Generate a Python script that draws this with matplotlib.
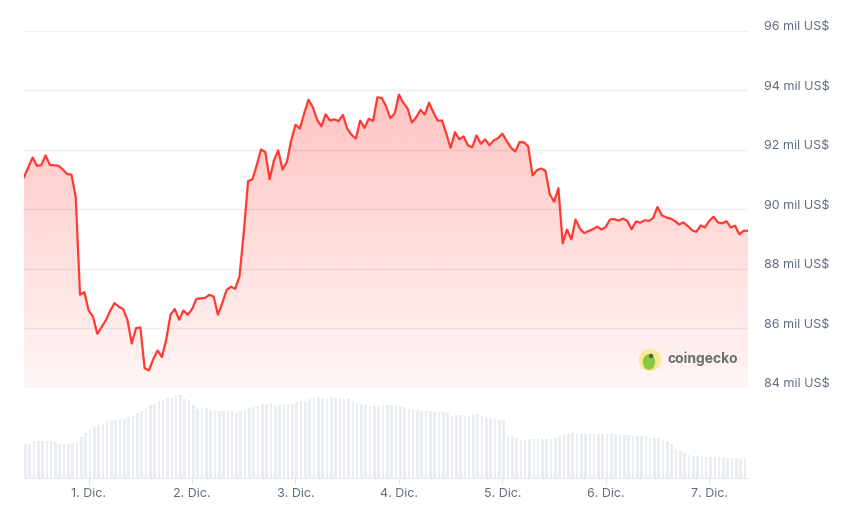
import matplotlib.pyplot as plt
import matplotlib.patches as mpatches
import matplotlib.dates as mdates
from matplotlib.transforms import IdentityTransform, ScaledTranslation
import numpy as np
import pandas as pd

# Precio BTC (mil US$), cada hora desde 30 nov 09:00
precio = [91.08, 91.41, 91.74, 91.46, 91.48, 91.81, 91.49, 91.48, 91.46, 91.34,
          91.18, 91.17, 90.42, 87.13, 87.22, 86.60, 86.40, 85.82, 86.04, 86.28,
          86.59, 86.85, 86.73, 86.65, 86.29, 85.49, 86.01, 86.03, 84.66, 84.59,
          84.97, 85.26, 85.04, 85.62, 86.46, 86.65, 86.29, 86.60, 86.46, 86.65,
          86.99, 87.01, 87.02, 87.13, 87.07, 86.46, 86.85, 87.29, 87.40, 87.33,
          87.74, 89.23, 90.95, 91.00, 91.48, 92.01, 91.92, 91.01, 91.64, 91.98,
          91.33, 91.59, 92.31, 92.84, 92.71, 93.21, 93.68, 93.43, 93.01, 92.78,
          93.19, 92.98, 93.02, 92.96, 93.17, 92.71, 92.50, 92.37, 92.98, 92.73,
          93.04, 92.97, 93.76, 93.74, 93.46, 93.06, 93.21, 93.85, 93.58, 93.39,
          92.91, 93.09, 93.34, 93.18, 93.58, 93.25, 92.98, 92.98, 92.54, 92.06,
          92.59, 92.35, 92.45, 92.15, 92.08, 92.48, 92.20, 92.35, 92.15, 92.31,
          92.39, 92.54, 92.29, 92.07, 91.94, 92.26, 92.25, 92.11, 91.14, 91.31,
          91.37, 91.29, 90.51, 90.25, 90.71, 88.86, 89.32, 88.99, 89.66, 89.35,
          89.20, 89.27, 89.33, 89.42, 89.32, 89.41, 89.66, 89.67, 89.62, 89.69,
          89.61, 89.33, 89.59, 89.55, 89.63, 89.61, 89.71, 90.08, 89.80, 89.73,
          89.69, 89.61, 89.49, 89.56, 89.44, 89.30, 89.24, 89.46, 89.39, 89.61,
          89.75, 89.56, 89.53, 89.60, 89.39, 89.45, 89.16, 89.28, 89.28]

# Volumen (mil millones US$, aprox.)
volumen = [20.6, 20.6, 22.0, 22.4, 22.0, 22.4, 22.0, 21.6, 20.6, 20.6,
           20.6, 21.0, 21.8, 24.6, 27.0, 29.0, 30.6, 32.0, 32.6, 34.0,
           35.0, 35.0, 35.6, 35.6, 36.4, 38.0, 39.0, 40.0, 42.0, 44.0,
           44.6, 46.4, 46.4, 48.0, 48.0, 50.0, 50.0, 47.4, 46.0, 44.0,
           41.6, 42.0, 42.0, 40.6, 40.4, 40.4, 40.0, 40.4, 40.4, 39.0,
           40.0, 41.0, 42.0, 42.4, 43.4, 44.6, 44.6, 45.0, 43.4, 44.0,
           44.4, 44.4, 44.4, 45.4, 46.0, 46.4, 47.4, 48.0, 48.6, 48.0,
           47.4, 48.6, 48.0, 48.0, 47.4, 48.0, 46.0, 45.0, 44.6, 44.0,
           43.4, 43.0, 43.4, 43.6, 43.6, 43.6, 43.4, 43.0, 42.4, 41.4,
           41.0, 40.6, 40.4, 40.4, 40.0, 39.6, 39.6, 39.6, 39.0, 37.4,
           38.0, 38.0, 37.4, 36.6, 38.0, 38.6, 38.0, 36.6, 36.0, 35.4,
           35.0, 34.6, 24.4, 25.0, 24.0, 23.0, 23.4, 23.4, 23.4, 24.0,
           23.4, 23.4, 23.4, 24.0, 25.0, 26.6, 26.6, 27.0, 26.6, 26.6,
           26.6, 26.6, 26.6, 26.6, 26.6, 26.6, 26.6, 26.6, 26.6, 26.0,
           26.0, 25.4, 25.4, 25.4, 24.6, 24.0, 24.0, 24.0, 22.6, 22.0,
           20.6, 17.4, 16.4, 15.0, 14.0, 13.4, 13.0, 12.6, 12.6, 12.6,
           12.6, 12.4, 12.0, 12.0, 12.0, 12.0, 11.6, 11.6, 11.6]

etiquetas_x = ["1. Dic.", "2. Dic.", "3. Dic.", "4. Dic.", "5. Dic.", "6. Dic.", "7. Dic."]
niveles_y = [84, 86, 88, 90, 92, 94, 96]
etiquetas_y = [f"{v} mil US$" for v in niveles_y]

fechas = pd.date_range("2024-11-30 09:00", periods=len(precio), freq="h")
dias = pd.date_range("2024-12-01", periods=len(etiquetas_x), freq="D")

plt.rcParams['font.family'] = ['Inter', 'DejaVu Sans']
rojo = '#ff3a33'
gris_txt = '#5f6b85'

W, H = 859, 525
fig = plt.figure(figsize=(W / 100, H / 100), dpi=100)
ax = fig.add_axes([24 / W, (H - 388) / H, 724 / W, (388 - 30.6) / H])
axv = fig.add_axes([24 / W, (H - 478) / H, 724 / W, (478 - 390) / H])

x0, x1 = fechas[0], fechas[-1]

# Linea de precio con relleno degradado
ax.plot(fechas, precio, color=rojo, lw=1.6, zorder=3, solid_joinstyle='round')
poly = ax.fill_between(fechas, precio, 84, color='none', lw=0)
grad = np.zeros((256, 1, 4))
grad[:, 0, 0] = 1.0
grad[:, 0, 1] = 58 / 255
grad[:, 0, 2] = 51 / 255
grad[:, 0, 3] = np.linspace(0.35, 0.05, 256)
img = ax.imshow(grad, aspect='auto', origin='upper',
                extent=[mdates.date2num(x0), mdates.date2num(x1), 84, 96], zorder=2)
img.set_clip_path(poly.get_paths()[0], transform=ax.transData)

ax.set_xlim(x0, x1)
ax.set_ylim(84, 96)
ax.set_yticks(niveles_y)
ax.set_yticklabels(etiquetas_y)
ax.yaxis.tick_right()
ax.tick_params(axis='y', length=0, pad=11.5, labelsize=9, labelcolor=gris_txt)
for lab in ax.get_yticklabels():
    lab.set_transform(lab.get_transform() + ScaledTranslation(0, 5 / 100, fig.dpi_scale_trans))
ax.set_xticks([])
ax.grid(axis='y', color='#eceef2', lw=1)
for s in ax.spines.values():
    s.set_visible(False)

# Volumen
axv.bar(fechas, volumen, width=0.6 / 24, align='edge', color='#eaedf1', lw=0)
axv.set_xlim(x0, x1)
axv.set_ylim(0, 52.8)
axv.set_yticks([])
axv.set_xticks(dias)
axv.set_xticklabels(etiquetas_x)
axv.tick_params(axis='x', length=5, color='#e3e6ea', pad=2.5, labelsize=9, labelcolor=gris_txt)
for s in ['top', 'left', 'right']:
    axv.spines[s].set_visible(False)
axv.spines['bottom'].set_color('#e8ebef')
axv.patch.set_alpha(0)

# Marca coingecko
fig.add_artist(mpatches.Circle((650, H - 360), 10.5, transform=IdentityTransform(),
                               color='#f8e89a', zorder=5))
fig.add_artist(mpatches.Ellipse((649, H - 362), 11, 14, transform=IdentityTransform(),
                                color='#8dc63f', zorder=6))
fig.add_artist(mpatches.Circle((651, H - 356), 1.6, transform=IdentityTransform(),
                               color='#4a6b2a', zorder=7))
fig.text(668 / W, (H - 359) / H, "coingecko", fontsize=10, fontweight='bold',
         color='#6e6e6e', va='center', ha='left')

fig.savefig("out.png", dpi=100, facecolor='white')
